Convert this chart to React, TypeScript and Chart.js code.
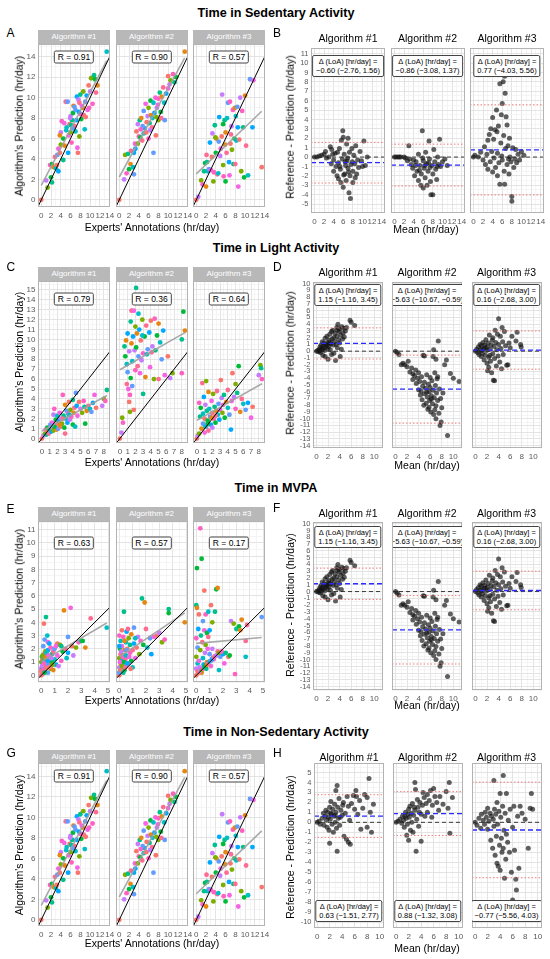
import React, { useEffect, useRef } from 'react';
import Chart from 'chart.js/auto';

type Pt = [number, number];

const FONT = '"Liberation Sans", Arial, Helvetica, sans-serif';
Chart.defaults.font.family = FONT;

// ---------- text ----------
const facetNames = ['Algorithm #1', 'Algorithm #2', 'Algorithm #3'];
const rowTitles = ['Time in Sedentary Activity', 'Time in Light Activity', 'Time in MVPA', 'Time in Non-Sedentary Activity'];

// ---------- correlation per facet ----------
const sedR = ['0.91', '0.90', '0.57'];
const lightR = ['0.79', '0.36', '0.64'];
const mvpaR = ['0.63', '0.57', '0.17'];
const nonSedR = ['0.91', '0.90', '0.57'];

// ---------- Bland-Altman bias and limits of agreement ----------
const sedBias = [-0.6, -0.86, 0.77];
const sedLoaLow = [-2.76, -3.08, -4.03];
const sedLoaHigh = [1.56, 1.37, 5.56];
const lightBias = [1.15, -5.63, 0.16];
const lightLoaLow = [-1.16, -10.67, -2.68];
const lightLoaHigh = [3.45, -0.59, 3.0];
const mvpaBias = [1.15, -5.63, 0.16];
const mvpaLoaLow = [-1.16, -10.67, -2.68];
const mvpaLoaHigh = [3.45, -0.59, 3.0];
const nonSedBias = [0.63, 0.88, -0.77];
const nonSedLoaLow = [-1.51, -1.32, -5.56];
const nonSedLoaHigh = [2.77, 3.08, 4.03];

// ---------- sedentary: experts vs algorithm (hr/day) ----------
const sedScatter1: Pt[] = [[0,0],[1,1.9],[1.3,1.2],[1.8,3.4],[2.2,1.7],[2.2,3.5],[2.5,3.2],[2.8,4.2],[3,3.1],[3.3,4.4],[3.5,2.8],[3.5,5],[3.8,4.6],[4,6.6],[4,5.4],[4.2,7.7],[4.5,3.9],[4.5,6],[4.8,5.3],[5,9.6],[5.2,7.1],[5.4,9.6],[5.5,4.6],[5.6,6.3],[5.8,7.4],[6,8.2],[6,6.6],[6.2,5.6],[6.3,7.8],[6.5,8.5],[6.6,9.2],[6.8,7.2],[7,6.7],[7,8.8],[7.3,10.1],[7.4,5.1],[7.5,4.6],[7.6,9.8],[7.8,6.2],[8,8.4],[8,10.3],[8.2,7.9],[8.5,9],[8.7,8.3],[8.9,6.9],[9,9.6],[9.3,10.2],[9.5,8.8],[9.7,11.2],[10,10.6],[10.2,11.9],[10.5,9.4],[10.8,12.2],[11,11.8],[11.5,11.2],[11.2,10.5],[13.4,14.5],[6.8,9.1],[7.2,7.8],[4.7,7.5],[3.2,3.4],[5.9,8],[8.6,10.6],[9.8,9],[6.1,7.3],[2,2.2],[3.8,6.3],[7.8,9.5],[5.1,6.8],[6.4,7],[7.7,8.6],[8.3,9.2],[9.1,8.1]];
const sedScatter2: Pt[] = [[0,0],[1,2],[1.2,4.4],[1.5,2.6],[1.8,4.5],[2,3],[2.3,3.5],[2.4,4.8],[2.8,3.2],[3,2.5],[3,4.6],[3.2,5.5],[3.5,6.7],[3.8,7.4],[3.8,5.5],[4,6.2],[4.2,7.8],[4.3,6.1],[4.5,8],[4.7,5.8],[5,6.5],[5,8.7],[5.2,7],[5.4,9.4],[5.5,6.6],[5.8,8.2],[6,9],[6,6],[6.2,7.5],[6.4,9.7],[6.5,8.3],[6.7,7.1],[7,9.5],[7,4.6],[7.2,8.5],[7.4,10],[7.5,6.3],[7.7,9],[8,7.8],[8,9.9],[8.3,10.5],[8.5,8.6],[8.7,10.1],[9,11],[9.2,9.5],[9.3,7.8],[9.6,10.4],[10,10.9],[10,12.1],[10.3,11.3],[10.5,11.7],[11,12.3],[11.3,11.5],[11.6,12],[13.4,14.5],[8.6,8],[6.8,8],[4.8,7.2],[3.3,5],[7.9,9.3],[5.6,7.6],[6.3,6.8],[7.6,8.1],[4.4,6.9]];
const sedScatter3: Pt[] = [[0,0],[0.4,0.3],[1,1.9],[1.3,1.5],[1.6,2.8],[1.8,3.6],[2,1.3],[2.1,4.4],[2.4,2.8],[2.6,3],[2.8,5.6],[3,2.9],[3.2,4.2],[3.3,6.5],[3.5,1.8],[3.6,2.7],[3.8,7.3],[4,4.6],[4.1,6],[4.3,2.5],[4.5,2.6],[4.6,5.7],[4.7,8.1],[5,5],[5.2,6.2],[5.3,10.3],[5.5,3.4],[5.6,2.3],[5.8,7.8],[6,1.8],[6,6.6],[6.2,4.6],[6.3,8],[6.5,9.5],[6.7,3.7],[6.8,2.4],[7,5.5],[7.2,7.2],[7.3,4.9],[7.5,8.8],[7.6,3.5],[7.8,6],[7.9,9],[8,3.5],[8.2,5.8],[8.4,9.1],[8.5,7.1],[8.6,1.3],[8.8,5.9],[9,10],[9.2,2.8],[9.4,8.7],[9.6,7.1],[9.8,2.2],[10,10.2],[10.2,5.3],[10.6,2.4],[11,11.8],[11.5,7.1],[11.7,11.7],[13.4,3.2],[4.9,4.3],[3.9,6.1],[6.9,9.6],[2.2,3.7],[5.5,7.4],[5.9,5.4],[7.1,6.4],[8.1,8.2]];

// ---------- sedentary: mean vs difference ----------
const sedBA1: Pt[] = [[0,0],[0.5,0],[1,0.1],[1.5,0.2],[2,0.3],[2.3,0.6],[2.5,-0.1],[3,0],[3.3,1.1],[3.5,-0.7],[3.8,0.3],[4,-0.3],[4,-1.5],[4.3,0.4],[4.5,-1],[4.7,-2],[5,-0.6],[5,-2.3],[5.2,0.9],[5.4,-1.3],[5.5,-2.7],[5.6,1.8],[5.8,-0.2],[6,2.1],[6,-3.2],[6.2,0.3],[6.3,-1.8],[6.5,-0.9],[6.6,-2.5],[6.7,1.4],[6.8,-0.4],[7,-1.2],[7,2],[7.2,-3.8],[7.3,0.5],[7.4,-2],[7.5,-4.4],[7.6,-0.8],[7.8,0.9],[8,-1.5],[8,-2.7],[8.2,0.2],[8.4,-0.7],[8.6,1.2],[8.8,-1.8],[9,-0.3],[9.2,-1.1],[9.5,0.6],[9.8,-0.4],[10,-1],[10.3,1.7],[10.6,-0.9],[11,0],[5.9,2.8],[6.9,-0.1],[4.8,0.5],[7.9,-0.5],[8.5,-2.2],[3.6,0.8],[6.1,-1.9],[5.3,-1],[6.4,-0.5],[7.1,-1.6]];
const sedBA2: Pt[] = [[0,0],[0.3,0],[0.7,0],[1,0],[1.3,0],[2,0],[2.3,-0.1],[2.7,-0.4],[3,1.2],[3.2,-0.2],[3.5,-0.8],[3.8,-1.2],[4,-0.3],[4.2,-2],[4.5,-0.5],[4.7,-1.5],[5,-2.5],[5,0.3],[5.3,-0.9],[5.5,-3],[5.6,-1.8],[5.8,2.8],[6,-0.4],[6,-3.3],[6.2,-1.2],[6.4,-2.2],[6.5,0.5],[6.7,-0.7],[6.8,-3],[7,-1.5],[7.2,1.7],[7.3,-0.2],[7.5,-2.6],[7.6,-4],[7.8,-0.9],[8,-4],[8,-1.8],[8.2,0.8],[8.4,-0.5],[8.6,-1.3],[8.8,-2.4],[9,0],[9.2,-0.8],[9.4,1.9],[9.6,-1],[10,-0.5],[10.5,-0.2],[11,-0.9],[7.1,-0.6],[5.9,-0.1],[8.9,-1],[4.4,-0.9],[6.3,-0.9],[7.4,-1.1],[5.2,-1.4]];
const sedBA3: Pt[] = [[0,0],[0.3,0.2],[1,0],[1.5,0.5],[2,-0.3],[2.3,1.1],[2.5,-0.8],[2.8,0.3],[3,1.8],[3,-1.3],[3.3,2.4],[3.5,-0.5],[3.6,3],[3.8,0.6],[4,-1.6],[4,4.2],[4.2,1.9],[4.3,-0.1],[4.5,2.9],[4.6,-1.1],[4.8,5],[5,0.4],[5,-2],[5.2,3.3],[5.3,-0.6],[5.5,7.8],[5.5,-2.9],[5.7,1.5],[5.8,4.5],[6,5.7],[6,-0.3],[6.2,8],[6.3,2.3],[6.4,-1.5],[6.5,8.6],[6.5,-2.9],[6.7,0.9],[6.8,4.3],[7,-0.8],[7,3.4],[7.2,1.2],[7.4,-1.8],[7.5,2],[7.6,0],[7.8,-0.5],[8,-4.2],[8,-4.7],[8.2,1],[8.4,-1.1],[8.6,-0.2],[8.8,0.8],[9,-0.6],[9.3,0.3],[9.6,-0.3],[10,0.6],[10.5,0.2],[6.6,6.8],[4.9,2.7],[5.9,0.1],[7.3,-0.2]];

// ---------- light activity: experts vs algorithm ----------
const lightScatter1: Pt[] = [[0,0],[0.2,0.3],[0.4,0.5],[0.5,0.9],[0.6,0.4],[0.7,1.1],[0.8,0.7],[0.9,0.5],[1,1],[1.1,1.4],[1.2,0.7],[1.3,1.6],[1.4,1.1],[1.5,2.4],[1.5,0.8],[1.6,3],[1.7,1.3],[1.8,1.9],[1.9,0.9],[2,1.5],[2,2.3],[2.1,1],[2.2,1.8],[2.3,2.6],[2.4,1.2],[2.5,2],[2.6,1.5],[2.7,4.4],[2.8,2.3],[2.9,1.1],[3,3.4],[3,0.5],[3.1,2],[3.2,2.8],[3.3,1.6],[3.4,2.5],[3.5,3.7],[3.6,1.9],[3.7,2.9],[3.8,2.2],[4,3.9],[4,1.4],[4.1,2.6],[4.2,3.1],[4.3,1.2],[4.4,4.6],[4.5,3.3],[4.6,2.3],[4.8,3.7],[5,3],[5.2,2.6],[5.4,3.8],[5.5,3.2],[5.6,1.5],[5.8,2.8],[6,3.3],[6.2,3],[6.4,2.7],[6.6,3.6],[6.8,4.4],[7,3.1],[7.8,3.3],[8,4],[8.2,3.8],[8.4,4.9],[1.6,1.2],[2.3,1.4],[2.7,2],[3.5,2.4],[1.2,1.3]];
const lightScatter2: Pt[] = [[0,0],[0.2,0.6],[0.3,2.1],[0.4,1.6],[0.6,9.3],[0.7,8.3],[0.8,9.9],[0.9,5.5],[0.9,7.5],[1,6.7],[1,10.6],[1.1,5],[1.2,3.7],[1.2,8.8],[1.3,2.7],[1.3,4.4],[1.4,11.8],[1.4,6.1],[1.5,9.6],[1.5,12.9],[1.6,7.8],[1.6,5.3],[1.7,10.3],[1.8,12.9],[1.8,2.9],[1.9,8.9],[2,11.3],[2,6.9],[2.1,15.2],[2.1,9.2],[2.2,10.6],[2.3,7.3],[2.4,12.6],[2.4,8.3],[2.5,11],[2.6,6.6],[2.7,9.9],[2.8,7.9],[2.9,12],[3,8.6],[3,4.5],[3.2,10.3],[3.3,6.2],[3.4,11.4],[3.5,8.5],[3.6,9],[3.8,10.7],[3.9,7.2],[4,11.9],[4.2,9.3],[4.4,6],[4.5,12.1],[4.6,8.9],[4.8,10.4],[5,11.6],[5,6],[5.2,9.7],[5.4,8],[5.6,10.9],[5.8,6.4],[6.2,8.3],[6.5,6.1],[6.8,6.6],[8,6.6],[8,10],[8.2,12.8],[8.4,10.9],[4.1,8.7],[2.9,10.4]];
const lightScatter3: Pt[] = [[0,0],[0.1,0.3],[0.3,0.5],[0.3,3.6],[0.4,2.2],[0.5,3.1],[0.6,1],[0.7,5.6],[0.8,2.5],[0.8,1.5],[0.9,4.2],[1,0.6],[1,2],[1.1,3.4],[1.2,5.8],[1.2,1.2],[1.3,2.8],[1.4,1.8],[1.5,4.7],[1.5,0.8],[1.6,3],[1.7,2.2],[1.8,1.4],[1.9,3.8],[2,2.6],[2,1.1],[2.1,4.5],[2.2,2],[2.3,3.2],[2.4,1.6],[2.5,2.8],[2.6,4.8],[2.7,2.4],[2.8,3.5],[2.9,1.9],[3,2.9],[3.1,5.9],[3.2,4.1],[3.3,2.6],[3.4,3.4],[3.5,4.4],[3.6,2.1],[3.8,3.7],[4,4.9],[4,3.1],[4.2,2.4],[4.4,0.9],[4.5,3.8],[4.6,6.6],[4.8,4.2],[5,5.5],[5,3],[5.2,4.6],[5.4,7.3],[5.6,2.7],[5.8,4],[6,3.5],[6.3,2.9],[6.6,3.6],[7,2.1],[7.2,3.2],[8,6.4],[8.2,7.4],[8.4,6],[8.3,7.1],[1.4,1.5],[1.9,2.1],[2.4,2.3],[1.1,1.2]];

// ---------- light activity: mean vs difference ----------
const lightBA1: Pt[] = [[0,0],[0.2,0.1],[0.4,-0.1],[0.5,0.3],[0.6,0.6],[0.7,-0.2],[0.8,0.9],[0.9,0.2],[1,0.5],[1,1.4],[1.1,-0.6],[1.2,0.8],[1.3,1.2],[1.4,0.1],[1.5,1.9],[1.5,-0.8],[1.6,0.6],[1.7,1],[1.8,2.2],[1.9,0.4],[2,1.3],[2,-1.2],[2.1,0.7],[2.2,1.6],[2.3,2.5],[2.4,0.2],[2.5,1.1],[2.6,-0.5],[2.7,1.8],[2.8,3.1],[2.9,0.9],[3,2],[3,-0.3],[3.1,1.4],[3.2,2.6],[3.3,-1.4],[3.4,1],[3.5,3.5],[3.5,2.2],[3.6,0.5],[3.7,4],[3.8,1.7],[3.9,2.9],[4,1.2],[4,3.3],[4.2,2.4],[4.3,0.3],[4.4,3.6],[4.5,1.8],[4.6,2.7],[4.7,3.4],[4.8,2.1],[5,3],[5.2,3.5],[5.8,4.6],[6,4.3],[6.6,3.8],[4.1,-0.8],[3.6,3.1],[2.6,2.9],[1.1,0.3],[1.8,0.9],[2.3,1.2],[0.6,0.1]];
const lightBA2: Pt[] = [[0,0],[0.3,-0.2],[0.6,-0.5],[1,-2],[1.3,-1.8],[1.6,-2],[2,-2.3],[2.2,-1.5],[2.5,-3.1],[2.8,-2.5],[3,-3.4],[3,-4.2],[3.3,-3.6],[3.5,-2.8],[3.6,-4.8],[3.8,-4],[4,-3.2],[4,-5.7],[4.2,-4.5],[4.3,-6.5],[4.5,-3.8],[4.6,-7.2],[4.7,-5.2],[4.8,-0.6],[4.9,-8],[5,-4.6],[5,-6.3],[5.2,-5.5],[5.3,-7.7],[5.4,-3.5],[5.5,-6.8],[5.6,-8.6],[5.7,-4.9],[5.8,-6],[5.9,-7.3],[6,-3.9],[6,-5.4],[6.1,-9],[6.2,-6.6],[6.3,-4.4],[6.4,-7.8],[6.5,-5.8],[6.6,0.2],[6.6,-9.4],[6.7,-6.9],[6.8,-3.2],[6.9,-5.1],[7,-8.1],[7,-10],[7.1,-6.2],[7.2,-4.1],[7.3,-7.3],[7.4,1.5],[7.5,-9.2],[7.6,-5.6],[7.7,-11],[7.8,-7],[7.9,-10.5],[8,-8.4],[8.2,-6.2],[8.5,-2],[8.8,-1.3],[9,-12.5],[9.5,-3.3],[10,-4],[11,-4.5],[6.5,-0.8],[5.8,-8.3],[4.4,-5.9],[7.3,-3.8],[5,-0.7],[7,-1.2],[6.2,-7.1],[5.4,-6.1],[6.8,-8.7]];
const lightBA3: Pt[] = [[0,0],[0.2,0.3],[0.4,-0.2],[0.5,0.6],[0.6,-0.5],[0.8,1],[0.9,0.2],[1,-0.8],[1,0.8],[1.2,-0.3],[1.3,1.3],[1.4,0.4],[1.5,-1.3],[1.6,0.9],[1.7,-0.6],[1.8,1.7],[1.9,0.1],[2,-1.8],[2,0.6],[2.1,-2.9],[2.2,1.2],[2.3,-0.9],[2.4,2.4],[2.5,0.3],[2.6,-1.5],[2.7,0.9],[2.8,-3.2],[2.9,1.6],[3,-0.4],[3,2],[3.1,-4.3],[3.2,0.7],[3.3,-1.1],[3.4,3.1],[3.5,1.3],[3.6,-2.2],[3.7,0.2],[3.8,2.5],[3.9,-0.7],[4,1],[4,4.8],[4.2,-1.6],[4.3,2.2],[4.4,0.4],[4.5,-2.6],[4.6,3.5],[4.7,1.4],[4.8,-0.5],[5,2.9],[5.2,0.8],[5.4,-2.1],[5.6,-2],[5.8,1.2],[6,0.5],[6.3,2.2],[7,1.5],[7.2,2.8],[7.8,1],[7.9,0.6],[3.3,-4.4],[2.3,-2.4],[1.1,0.1],[1.7,0.5],[2.5,-0.6]];

// ---------- MVPA: experts vs algorithm ----------
const mvpaScatter1: Pt[] = [[0,0],[0,0.5],[0,1],[0.05,0.2],[0.05,1.4],[0.1,0.6],[0.1,1.2],[0.1,0.1],[0.15,0.9],[0.15,2.2],[0.2,0.4],[0.2,1.6],[0.2,3.9],[0.25,0.8],[0.3,1.8],[0.3,0.3],[0.35,4.4],[0.35,1.1],[0.4,0.6],[0.4,1.4],[0.45,3],[0.5,0.2],[0.5,1.9],[0.5,2.5],[0.6,0.9],[0.6,1.3],[0.7,0.5],[0.7,2.1],[0.8,1.6],[0.8,1],[0.9,0.4],[0.9,1.8],[1,1.2],[1,2],[1.1,0.8],[1.2,1.5],[1.2,2.4],[1.3,0.7],[1.4,2.3],[1.5,1.1],[1.5,2.2],[1.6,1.8],[1.7,4.9],[1.8,2],[1.9,1.3],[2,2.9],[2,1.7],[2.2,5.1],[2.3,2.2],[2.4,1.5],[2.6,2.1],[2.8,2.5],[3,2.6],[3.1,2.6],[3.3,2.1],[3.7,4.3],[4.9,3.6],[0.25,2.7],[0.6,2.4],[1.1,2.2],[0,0.3],[0.05,0.7],[0.1,1.5],[0.15,0.4],[0.2,1.2],[0.25,0.2],[0.3,1.3],[0.35,0.7],[0.4,1.7],[0.45,0.9],[0.5,1.1],[0.55,1.5],[0.65,0.6],[0.75,1.3],[0.85,0.8],[0.2,0.9]];
const mvpaScatter2: Pt[] = [[0,0],[0,0.6],[0,1.3],[0,3],[0.05,0.3],[0.05,2],[0.1,0.9],[0.1,1.6],[0.1,2.6],[0.15,0.5],[0.2,1.1],[0.2,2.2],[0.2,3.4],[0.25,0.8],[0.3,1.5],[0.3,2.9],[0.35,4.8],[0.4,0.4],[0.4,1.9],[0.45,1.2],[0.5,2.5],[0.5,0.7],[0.55,3.3],[0.6,1.4],[0.6,2],[0.7,0.9],[0.7,2.8],[0.8,1.7],[0.8,2.3],[0.9,1.1],[0.9,3.1],[1,1.9],[1,0.6],[1.1,3.6],[1.1,2.4],[1.2,1.3],[1.3,2.1],[1.4,2.9],[1.5,1.6],[1.6,2.6],[1.7,5.8],[1.8,2.3],[1.9,5.5],[2,3.5],[2.1,2.1],[2.3,2.8],[2.4,1.6],[2.6,2.9],[2.8,3],[3,3.2],[3.2,2.5],[3.4,2.7],[3.7,5],[3.7,4.7],[4.9,4],[0.65,3.5],[1.2,2.8],[0,0.2],[0,2.2],[0.05,1],[0.1,0.4],[0.15,1.8],[0.2,0.7],[0.25,1.4],[0.3,0.2],[0.35,1],[0.4,2.6],[0.45,0.6],[0.5,1.5],[0.55,1.9],[0.6,0.9],[0.75,1.4],[0.85,0.5]];
const mvpaScatter3: Pt[] = [[0,0],[0,0.5],[0,1.4],[0,2.8],[0,5.3],[0.05,8.1],[0.05,5.1],[0.1,0.3],[0.1,0.9],[0.1,2.1],[0.15,3.5],[0.2,1.1],[0.2,4.6],[0.25,0.6],[0.3,1.9],[0.3,11.1],[0.35,3],[0.4,8.8],[0.4,0.2],[0.45,2.5],[0.5,1.3],[0.5,4.1],[0.55,0.8],[0.6,3.4],[0.6,6.4],[0.65,1.7],[0.7,2.3],[0.7,4.6],[0.75,0.5],[0.8,3.2],[0.8,1],[0.9,2.9],[0.9,4.8],[1,1.6],[1,3.4],[1.1,0.7],[1.1,5.3],[1.2,2],[1.2,4],[1.3,1.2],[1.4,4.8],[1.5,6.5],[1.6,6.6],[1.6,1.8],[1.7,0.4],[1.8,1.4],[2,1.6],[2.1,0.9],[2.4,1.4],[2.6,4.1],[2.8,3.9],[2.9,0.1],[3,3.5],[3.2,3.7],[3.3,3.4],[3.7,2.6],[3.7,1.4],[4.9,4.4],[1.25,1.3],[0.85,2],[0.2,0.2],[0.3,0.35],[0.4,0.4],[0.5,0.5],[0.6,0.6],[0.7,0.75],[0.8,0.8],[0.9,0.95],[1,1.05],[1.1,1.1],[1.2,1.25],[1.3,1.35],[1.4,1.45],[1.5,1.5],[1.7,1.7],[1.9,1.8],[2.2,1.7],[2.5,1.5],[3.4,4.2],[3.8,3.8]];

// ---------- non-sedentary: mean vs difference ----------
const nonSedBA1: Pt[] = [[0,0],[0.3,0.1],[0.5,-0.2],[0.8,0.4],[1,0.9],[1.1,-0.3],[1.3,0.6],[1.4,1.2],[1.5,0.2],[1.6,-0.5],[1.7,1],[1.8,0.5],[1.9,-0.8],[2,1.5],[2,-2.1],[2.1,0.3],[2.2,2.1],[2.3,0.8],[2.4,-0.2],[2.5,1.3],[2.6,-1],[2.7,0.6],[2.8,1.8],[2.9,0],[3,3.2],[3,1],[3.1,-0.6],[3.2,3.7],[3.2,-2.9],[3.3,1.5],[3.4,0.4],[3.5,2.4],[3.6,-0.3],[3.8,1.2],[4,0.7],[4.2,2],[4.3,-1.4],[4.5,0.9],[4.7,-1.7],[4.8,2.6],[5,1.6],[5,-2],[5.2,0.2],[5.3,-2.2],[5.5,1.9],[5.8,2.7],[6,1.3],[6.2,3.2],[6.5,0.8],[6.8,2.2],[7,-0.7],[7.3,1.4],[7.6,2.8],[8,-0.5],[8,2.5],[8.3,4.4],[8.5,1],[8.7,-1],[9,1.8],[6.3,2.6],[4.1,1.7],[2.2,0.9],[2.9,0.7],[3.7,0.5]];
const nonSedBA2: Pt[] = [[0,0],[0.3,0.1],[0.6,0.3],[0.9,-0.1],[1,0.6],[1.2,0.2],[1.3,-0.5],[1.5,1],[1.6,0.4],[1.7,-1.3],[1.8,-0.2],[1.9,0.8],[2,1.3],[2,-1.8],[2.1,0.5],[2.2,1.6],[2.3,-0.8],[2.4,0.9],[2.5,0],[2.6,1.9],[2.7,-1],[2.8,0.7],[3,1.2],[3,4],[3.1,3.3],[3.2,-2.9],[3.3,0.3],[3.4,2.3],[3.5,1.5],[3.6,-0.4],[3.8,2],[4,0.8],[4,-1.9],[4.2,1.7],[4.3,3],[4.5,2.5],[4.6,0.6],[4.8,1.9],[5,2.8],[5,1],[5.3,2.2],[5.5,3.2],[5.8,1.7],[6,3.4],[6.2,2.6],[6.5,2],[6.8,1.2],[7,2.6],[7.5,1.8],[8,3.1],[8.3,1.4],[8.5,4],[8.6,-1.1],[9,2.5],[5.7,0.5],[3.7,1],[2.9,1.5],[1.4,0.6]];
const nonSedBA3: Pt[] = [[0,0],[0.3,-0.3],[0.6,0.4],[0.9,-0.6],[1,0.8],[1.3,0.2],[1.5,-0.2],[1.6,1],[1.8,0.5],[2,-0.7],[2,1.4],[2.2,0.1],[2.4,0.9],[2.5,-1.8],[2.6,0.6],[2.8,-2.6],[2.9,0.3],[3,4.2],[3,-0.4],[3.1,1.3],[3.2,-3.3],[3.3,0.8],[3.4,-1.4],[3.5,-4.1],[3.5,2],[3.6,-0.2],[3.7,-4.4],[3.8,1.1],[3.9,-2.3],[4,2.9],[4,-4.8],[4.1,0.5],[4.2,-1.6],[4.3,-3],[4.4,1.6],[4.5,4.7],[4.5,-2.6],[4.6,-0.8],[4.7,-5.6],[4.8,0.9],[4.9,-3.7],[5,-1.2],[5,2.9],[5.2,-2],[5.3,0.2],[5.5,-3],[5.6,1.3],[5.8,-5],[6,-0.5],[6,-7.8],[6.2,1.6],[6.3,-2.8],[6.5,-5.7],[6.6,-6.8],[6.8,0.6],[7,-4.6],[7.2,1.6],[7.5,0.9],[8,0.3],[8.5,-2.6],[8.8,1.4],[9,2.9],[9.2,1.3]];

// ---------- styling ----------
const HUES = ['#F8766D', '#00BA38', '#00A9FF', '#FF61C3', '#00BFC4', '#C77CFF', '#E68613', '#F564E3', '#00C08B', '#619CFF', '#7CAE00', '#FF6C91'];
const PADL = 24;
const PADR = 7;
const PADT = 4;
const PADB = 14;

interface AxisSpec { min: number; max: number; grid: number; label: number; font: number }
interface PanelSpec {
  kind: 'scatter' | 'ba';
  letter: string; letterY: number;
  lefts: number[]; w: number; t: number; h: number;
  x: AxisSpec; y: AxisSpec;
  points: Pt[][];
  r?: string[]; rY?: number; stripTop?: number;
  bias?: number[]; low?: number[]; high?: number[];
  titleY?: number; boxTop?: number; boxBottom?: number;
  yTitle: [number, number]; xTitle: [number, number];
}

const scatterX14: AxisSpec = { min: -0.67, max: 14.07, grid: 1, label: 2, font: 8 };
const baX10: AxisSpec = { min: -0.6, max: 11.5, grid: 1, label: 2, font: 8 };
const scatterLefts = [38, 115.5, 193];

const panels: PanelSpec[] = [
  { kind: 'scatter', letter: 'A', letterY: 33, lefts: scatterLefts, w: 72, t: 44, h: 163,
    x: scatterX14, y: { min: -0.7, max: 15.25, grid: 1, label: 2, font: 8 },
    points: [sedScatter1, sedScatter2, sedScatter3], r: sedR, rY: 14, stripTop: 30,
    yTitle: [19, 126], xTitle: [152, 226.5] },
  { kind: 'ba', letter: 'B', letterY: 33, lefts: [311, 390.5, 470], w: 74, t: 48, h: 165,
    x: { min: -0.72, max: 14.7, grid: 1, label: 2, font: 8 }, y: { min: -5.95, max: 11.6, grid: 0.5, label: 1, font: 7.5 },
    points: [sedBA1, sedBA2, sedBA3], bias: sedBias, low: sedLoaLow, high: sedLoaHigh, titleY: 38, boxTop: 6,
    yTitle: [290, 126.7], xTitle: [426, 228.7] },
  { kind: 'scatter', letter: 'C', letterY: 267, lefts: scatterLefts, w: 72, t: 280.5, h: 161.5,
    x: { min: -0.5, max: 8.8, grid: 0.5, label: 1, font: 8 }, y: { min: -0.45, max: 15.9, grid: 0.5, label: 1, font: 8 },
    points: [lightScatter1, lightScatter2, lightScatter3], r: lightR, rY: 14, stripTop: 267,
    yTitle: [19, 361.5], xTitle: [152, 461.7] },
  { kind: 'ba', letter: 'D', letterY: 267, lefts: [313, 392, 471.5], w: 70, t: 282, h: 166,
    x: baX10, y: { min: -14.35, max: 10.25, grid: 0.5, label: 1, font: 7.5 },
    points: [lightBA1, lightBA2, lightBA3], bias: lightBias, low: lightLoaLow, high: lightLoaHigh, titleY: 271.7, boxTop: 1,
    yTitle: [290, 362.5], xTitle: [427, 465] },
  { kind: 'scatter', letter: 'E', letterY: 509, lefts: scatterLefts, w: 72, t: 521, h: 161,
    x: { min: -0.245, max: 5.145, grid: 0.5, label: 1, font: 8 }, y: { min: -0.5, max: 11.65, grid: 0.5, label: 1, font: 8 },
    points: [mvpaScatter1, mvpaScatter2, mvpaScatter3], r: mvpaR, rY: 10, stripTop: 507,
    yTitle: [19, 598.5], xTitle: [152, 700] },
  { kind: 'ba', letter: 'F', letterY: 508, lefts: [313, 392, 471.5], w: 70, t: 522, h: 168,
    x: baX10, y: { min: -14.5, max: 10.25, grid: 0.5, label: 1, font: 7.5 },
    points: [lightBA1, lightBA2, lightBA3], bias: mvpaBias, low: mvpaLoaLow, high: mvpaLoaHigh, titleY: 513, boxTop: 3,
    yTitle: [290, 605], xTitle: [427, 705] },
  { kind: 'scatter', letter: 'G', letterY: 752.5, lefts: scatterLefts, w: 72, t: 763, h: 163,
    x: scatterX14, y: { min: -0.6, max: 15.3, grid: 1, label: 2, font: 8 },
    points: [sedScatter1, sedScatter2, sedScatter3], r: nonSedR, rY: 14, stripTop: 750,
    yTitle: [19, 845], xTitle: [152, 943] },
  { kind: 'ba', letter: 'H', letterY: 752.5, lefts: [314, 392.5, 471.5], w: 70, t: 763, h: 165,
    x: { min: -0.5, max: 10.7, grid: 1, label: 2, font: 8 }, y: { min: -10.6, max: 5.95, grid: 0.5, label: 1, font: 7.5 },
    points: [nonSedBA1, nonSedBA2, nonSedBA3], bias: nonSedBias, low: nonSedLoaLow, high: nonSedLoaHigh, titleY: 756.7, boxBottom: 6,
    yTitle: [290, 847], xTitle: [427, 947.5] },
];

const rowTitleY = [12.8, 248, 488, 731.7];

// ---------- helpers ----------
const isMajor = (v: number, step: number) => Math.abs(v / step - Math.round(v / step)) < 1e-6;

const gridValues = (a: AxisSpec) => {
  const out: number[] = [];
  for (let k = Math.ceil(a.min / a.grid - 1e-9); k * a.grid <= a.max + 1e-9; k++) out.push(Math.round(k * a.grid * 1000) / 1000);
  return out;
};

const fitLine = (pts: Pt[]) => {
  const n = pts.length;
  const mx = pts.reduce((s, p) => s + p[0], 0) / n;
  const my = pts.reduce((s, p) => s + p[1], 0) / n;
  let sxy = 0, sxx = 0;
  pts.forEach(([x, y]) => { sxy += (x - mx) * (y - my); sxx += (x - mx) * (x - mx); });
  const b = sxy / sxx;
  const a = my - b * mx;
  const x0 = Math.min(...pts.map((p) => p[0]));
  const x1 = Math.max(...pts.map((p) => p[0]));
  return [{ x: x0, y: a + b * x0 }, { x: x1, y: a + b * x1 }];
};

const fmt = (v: number) => v.toFixed(2).replace('-', '\u2212');

const framePlugin = {
  id: 'frame',
  afterDatasetsDraw(chart: any) {
    const { ctx, chartArea: a } = chart;
    ctx.save();
    ctx.strokeStyle = '#b3b3b3';
    ctx.lineWidth = 1;
    ctx.strokeRect(a.left + 0.5, a.top + 0.5, a.right - a.left - 1, a.bottom - a.top - 1);
    ctx.restore();
  },
};

function axisOptions(a: AxisSpec, horizontal: boolean, show: boolean) {
  const vals = gridValues(a);
  return {
    type: 'linear',
    min: a.min,
    max: a.max,
    afterBuildTicks: (s: any) => { s.ticks = vals.map((v) => ({ value: v })); },
    afterFit: (s: any) => {
      if (horizontal) s.height = PADB; else s.width = show ? PADL : 0;
      s.paddingLeft = 0; s.paddingRight = 0; s.paddingTop = 0; s.paddingBottom = 0;
    },
    ticks: {
      display: show,
      autoSkip: false,
      maxRotation: 0,
      minRotation: 0,
      padding: horizontal ? 4 : 2.5,
      color: '#595959',
      font: { size: a.font },
      callback: (v: number) => (isMajor(v, a.label) ? String(Math.round(v * 100) / 100) : ''),
    },
    grid: {
      drawTicks: false,
      color: (c: any) => (c.tick && isMajor(c.tick.value, a.label) ? '#e1e1e1' : '#efefef'),
      lineWidth: (c: any) => (c.tick && isMajor(c.tick.value, a.label) ? 0.9 : 0.6),
    },
    border: { display: false },
  };
}

const hline = (p: PanelSpec, v: number) => [{ x: p.x.min, y: v }, { x: p.x.max, y: v }];

function buildConfig(p: PanelSpec, i: number): any {
  const pts = p.points[i];
  const datasets: any[] = [];
  if (p.kind === 'scatter') {
    datasets.push({ data: [{ x: p.x.min, y: p.x.min }, { x: p.x.max, y: p.x.max }], showLine: true, borderColor: '#000000', borderWidth: 1, pointRadius: 0, order: 0 });
    datasets.push({ data: fitLine(pts), showLine: true, borderColor: 'rgba(160,160,160,0.9)', borderWidth: 1.6, pointRadius: 0, order: 1 });
    datasets.push({ data: pts.map(([x, y]) => ({ x, y })), backgroundColor: pts.map((_, k) => HUES[(k * 5) % HUES.length]), pointRadius: 2.4, borderWidth: 0, order: 2 });
  } else {
    datasets.push({ data: hline(p, p.bias![i]), showLine: true, borderColor: '#2b2bff', borderWidth: 1.3, borderDash: [5, 3], pointRadius: 0, order: 0 });
    datasets.push({ data: hline(p, p.low![i]), showLine: true, borderColor: '#f07070', borderWidth: 0.9, borderDash: [1.5, 2], pointRadius: 0, order: 0 });
    datasets.push({ data: hline(p, p.high![i]), showLine: true, borderColor: '#f07070', borderWidth: 0.9, borderDash: [1.5, 2], pointRadius: 0, order: 0 });
    datasets.push({ data: hline(p, 0), showLine: true, borderColor: '#222222', borderWidth: 0.9, borderDash: [4, 3], pointRadius: 0, order: 1 });
    datasets.push({ data: pts.map(([x, y]) => ({ x, y })), backgroundColor: 'rgba(20,20,20,0.68)', pointRadius: 2.5, borderWidth: 0, order: 2 });
  }
  const showY = i === 0;
  return {
    type: 'scatter',
    data: { datasets },
    options: {
      animation: false,
      responsive: false,
      maintainAspectRatio: false,
      events: [],
      layout: { padding: { left: showY ? 0 : PADL, right: PADR, top: PADT, bottom: 0 } },
      plugins: { legend: { display: false }, tooltip: { enabled: false } },
      scales: { x: axisOptions(p.x, true, true), y: axisOptions(p.y, false, showY) },
    },
    plugins: [framePlugin],
  };
}

const Facet: React.FC<{ p: PanelSpec; i: number }> = ({ p, i }) => {
  const ref = useRef<HTMLCanvasElement>(null);
  useEffect(() => {
    const ctx = ref.current?.getContext('2d');
    if (!ctx) return;
    const chart = new Chart(ctx, buildConfig(p, i));
    return () => chart.destroy();
  }, [p, i]);
  const cw = p.w + PADL + PADR;
  const ch = Math.round(p.h + PADT + PADB);
  return (
    <canvas ref={ref} width={cw} height={ch}
      style={{ position: 'absolute', left: p.lefts[i] - PADL, top: p.t - PADT, width: cw, height: ch }} />
  );
};

const centered = (x: number, y: number): React.CSSProperties => ({
  position: 'absolute', left: x, top: y, transform: 'translate(-50%, -50%)', whiteSpace: 'nowrap', lineHeight: 1,
});

const Panel: React.FC<{ p: PanelSpec }> = ({ p }) => {
  const yPix = (v: number) => p.t + ((p.y.max - v) / (p.y.max - p.y.min)) * p.h;
  return (
    <>
      {p.lefts.map((_, i) => <Facet key={'c' + i} p={p} i={i} />)}
      <div style={{ position: 'absolute', left: p.kind === 'scatter' ? 6.5 : 273, top: p.letterY - 6, fontSize: 12, lineHeight: '12px' }}>{p.letter}</div>
      {p.lefts.map((l, i) => (
        <React.Fragment key={'o' + i}>
          {p.kind === 'scatter' ? (
            <>
              <div style={{ position: 'absolute', left: l, top: p.stripTop, width: p.w, height: p.t - p.stripTop!, background: '#b8b8b8', color: '#ffffff', fontSize: 8, lineHeight: `${p.t - p.stripTop!}px`, textAlign: 'center' }}>
                {facetNames[i]}
              </div>
              <div style={{ ...centered(l + p.w / 2, yPix(p.rY!)), background: '#ffffff', border: '0.7px solid #444', borderRadius: 2, padding: '1px 3px', fontSize: 8.5, lineHeight: '9px' }}>
                R = {p.r![i]}
              </div>
            </>
          ) : (
            <>
              <div style={{ ...centered(l + p.w / 2, p.titleY!), fontSize: 10.5 }}>{facetNames[i]}</div>
              <div style={{ position: 'absolute', left: l + 0.5, top: p.t + 0.5, width: p.w - 1, height: p.h - 1, overflow: 'hidden' }}>
                <div style={{
                  position: 'absolute', left: '50%', transform: 'translateX(-50%)',
                  ...(p.boxTop !== undefined ? { top: p.boxTop } : { bottom: p.boxBottom }),
                  background: '#ffffff', border: '0.8px solid #444', borderRadius: 2, padding: '1px 3px',
                  fontSize: 7.5, lineHeight: '9px', textAlign: 'center', whiteSpace: 'nowrap',
                }}>
                  {'\u0394 (LoA) [hr/day] ='}<br />
                  {`${fmt(p.bias![i])} (${fmt(p.low![i])}, ${fmt(p.high![i])})`}
                </div>
              </div>
            </>
          )}
        </React.Fragment>
      ))}
      <div style={{ ...centered(p.yTitle[0], p.yTitle[1]), transform: 'translate(-50%, -50%) rotate(-90deg)', fontSize: 10.5 }}>
        {p.kind === 'scatter' ? "Algorithm's Prediction (hr/day)" : 'Reference - Prediction (hr/day)'}
      </div>
      <div style={{ ...centered(p.xTitle[0], p.xTitle[1]), fontSize: 10.5 }}>
        {p.kind === 'scatter' ? "Experts' Annotations (hr/day)" : 'Mean (hr/day)'}
      </div>
    </>
  );
};

const App: React.FC = () => (
  <div style={{ position: 'absolute', left: 0, top: 0, width: 550, height: 959, background: '#ffffff', overflow: 'hidden', fontFamily: FONT, color: '#000' }}>
    {rowTitles.map((t, k) => (
      <div key={t} style={{ ...centered(276, rowTitleY[k]), fontSize: 12.6, fontWeight: 'bold' }}>{t}</div>
    ))}
    {panels.map((p) => <Panel key={p.letter} p={p} />)}
  </div>
);

export default App;
